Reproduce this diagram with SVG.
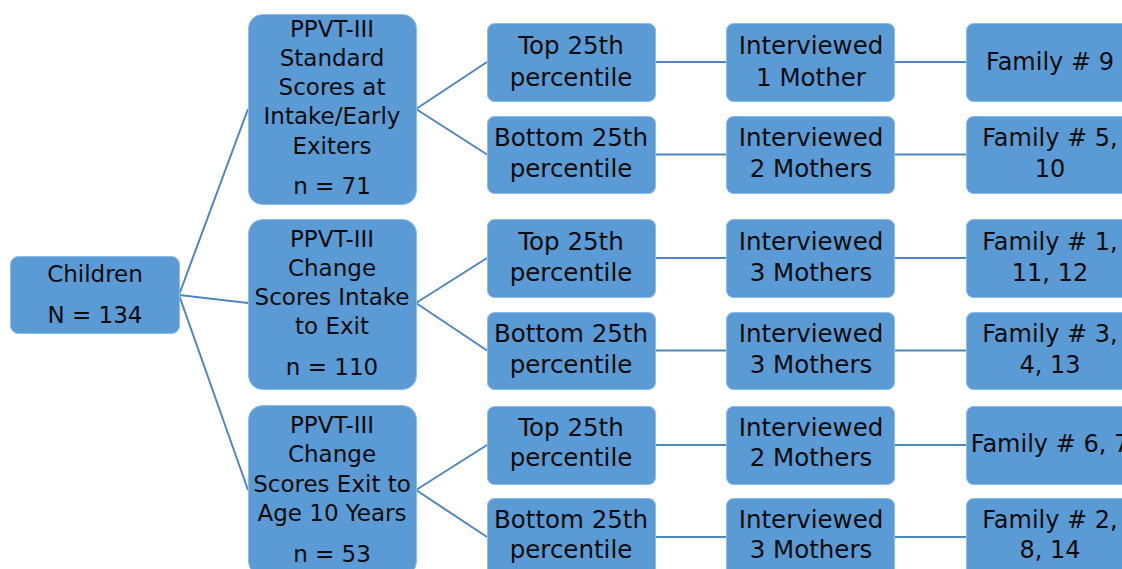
<svg xmlns="http://www.w3.org/2000/svg" width="1122" height="569" viewBox="0 0 1122 569">
<style>
.box{fill:#5B9BD5;stroke:#8DBCE6;stroke-width:1}
.t{font-family:"DejaVu Sans",sans-serif;font-size:24.5px;fill:#0a0a0a;text-anchor:middle}
.f{font-family:"DejaVu Sans",sans-serif;font-size:24px;fill:#0a0a0a;text-anchor:middle}
.t1{font-family:"DejaVu Sans",sans-serif;font-size:23px;fill:#0a0a0a;text-anchor:middle}
.c{stroke:#4F86C0;stroke-width:2;fill:none}
</style>
<rect width="1122" height="569" fill="#fff"/>
<g id="connectors">
<path class="c" d="M179,295 L248,109 M179,295 L248,303 M179,295 L248,490"/>
<path class="c" d="M416,109 L487,62 M416,109 L487,154.5"/>
<path class="c" d="M416,303 L487,258 M416,303 L487,350.5"/>
<path class="c" d="M416,490 L487,445 M416,490 L487,537"/>
<path class="c" d="M655,62 H726 M655,154.5 H726 M655,258 H726 M655,350.5 H726 M655,445 H726 M655,537 H726"/>
<path class="c" d="M894,62 H966 M894,154.5 H966 M894,258 H966 M894,350.5 H966 M894,445 H966 M894,537 H966"/>
</g>
<g id="children">
<rect class="box" x="10.5" y="256.5" width="169" height="77" rx="8"/>
<text class="t1" x="95" y="282">Children</text>
<text class="t1" x="95" y="323">N = 134</text>
</g>
<g id="ppvt-standard">
<rect class="box" x="248.5" y="14.5" width="168" height="190" rx="14"/>
<text class="t1" x="332" y="37">PPVT-III</text>
<text class="t1" x="332" y="66">Standard</text>
<text class="t1" x="332" y="95">Scores at</text>
<text class="t1" x="332" y="124">Intake/Early</text>
<text class="t1" x="332" y="154">Exiters</text>
<text class="t1" x="332" y="194">n = 71</text>
</g>
<g id="ppvt-change-intake">
<rect class="box" x="248.5" y="219.5" width="168" height="170" rx="14"/>
<text class="t1" x="332" y="247">PPVT-III</text>
<text class="t1" x="332" y="276">Change</text>
<text class="t1" x="332" y="305">Scores Intake</text>
<text class="t1" x="332" y="334">to Exit</text>
<text class="t1" x="332" y="375">n = 110</text>
</g>
<g id="ppvt-change-exit">
<rect class="box" x="248.5" y="405.5" width="168" height="170" rx="14"/>
<text class="t1" x="332" y="433">PPVT-III</text>
<text class="t1" x="332" y="462">Change</text>
<text class="t1" x="332" y="492">Scores Exit to</text>
<text class="t1" x="332" y="521">Age 10 Years</text>
<text class="t1" x="332" y="562">n = 53</text>
</g>
<g id="top1">
<rect class="box" x="487.5" y="23.5" width="168" height="78" rx="7"/>
<text class="t" x="571" y="54">Top 25th</text>
<text class="t" x="571" y="86">percentile</text>
</g>
<g id="bottom1">
<rect class="box" x="487.5" y="116.5" width="168" height="77" rx="7"/>
<text class="t" x="571" y="146">Bottom 25th</text>
<text class="t" x="571" y="177">percentile</text>
</g>
<g id="top2">
<rect class="box" x="487.5" y="219.5" width="168" height="78" rx="7"/>
<text class="t" x="571" y="250">Top 25th</text>
<text class="t" x="571" y="281">percentile</text>
</g>
<g id="bottom2">
<rect class="box" x="487.5" y="312.5" width="168" height="77" rx="7"/>
<text class="t" x="571" y="342">Bottom 25th</text>
<text class="t" x="571" y="373">percentile</text>
</g>
<g id="top3">
<rect class="box" x="487.5" y="406.5" width="168" height="78" rx="7"/>
<text class="t" x="571" y="436">Top 25th</text>
<text class="t" x="571" y="466">percentile</text>
</g>
<g id="bottom3">
<rect class="box" x="487.5" y="498.5" width="168" height="78" rx="7"/>
<text class="t" x="571" y="528">Bottom 25th</text>
<text class="t" x="571" y="558">percentile</text>
</g>
<g id="int1">
<rect class="box" x="726.5" y="23.5" width="168" height="78" rx="7"/>
<text class="t" x="811" y="54">Interviewed</text>
<text class="t" x="811" y="86">1 Mother</text>
</g>
<g id="int2">
<rect class="box" x="726.5" y="116.5" width="168" height="77" rx="7"/>
<text class="t" x="811" y="146">Interviewed</text>
<text class="t" x="811" y="177">2 Mothers</text>
</g>
<g id="int3">
<rect class="box" x="726.5" y="219.5" width="168" height="78" rx="7"/>
<text class="t" x="811" y="250">Interviewed</text>
<text class="t" x="811" y="281">3 Mothers</text>
</g>
<g id="int4">
<rect class="box" x="726.5" y="312.5" width="168" height="77" rx="7"/>
<text class="t" x="811" y="342">Interviewed</text>
<text class="t" x="811" y="373">3 Mothers</text>
</g>
<g id="int5">
<rect class="box" x="726.5" y="406.5" width="168" height="78" rx="7"/>
<text class="t" x="811" y="436">Interviewed</text>
<text class="t" x="811" y="466">2 Mothers</text>
</g>
<g id="int6">
<rect class="box" x="726.5" y="498.5" width="168" height="78" rx="7"/>
<text class="t" x="811" y="528">Interviewed</text>
<text class="t" x="811" y="558">3 Mothers</text>
</g>
<g id="fam1">
<rect class="box" x="966.5" y="23.5" width="168" height="78" rx="7"/>
<text class="f" x="1050" y="70">Family # 9</text>
</g>
<g id="fam2">
<rect class="box" x="966.5" y="116.5" width="168" height="77" rx="7"/>
<text class="f" x="1050" y="146">Family # 5,</text>
<text class="f" x="1050" y="177">10</text>
</g>
<g id="fam3">
<rect class="box" x="966.5" y="219.5" width="168" height="78" rx="7"/>
<text class="f" x="1050" y="250">Family # 1,</text>
<text class="f" x="1050" y="281">11, 12</text>
</g>
<g id="fam4">
<rect class="box" x="966.5" y="312.5" width="168" height="77" rx="7"/>
<text class="f" x="1050" y="342">Family # 3,</text>
<text class="f" x="1050" y="373">4, 13</text>
</g>
<g id="fam5">
<rect class="box" x="966.5" y="406.5" width="168" height="78" rx="7"/>
<text class="f" x="1050" y="452">Family # 6, 7</text>
</g>
<g id="fam6">
<rect class="box" x="966.5" y="498.5" width="168" height="78" rx="7"/>
<text class="f" x="1050" y="528">Family # 2,</text>
<text class="f" x="1050" y="558">8, 14</text>
</g>
</svg>
